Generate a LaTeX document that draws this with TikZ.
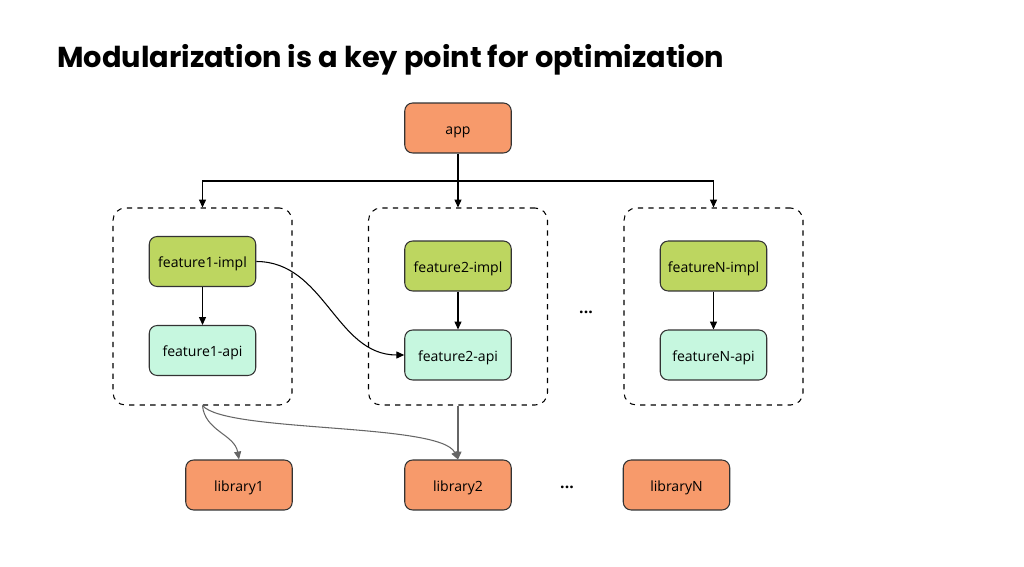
\documentclass[tikz,border=0pt]{standalone}
\usepackage{fontspec}
\setmainfont{Open Sans}
\newfontfamily\titlefont{Poppins}
\usepackage{xcolor}
\usepackage{tikz}
\usetikzlibrary{arrows.meta}
\definecolor{apporange}{HTML}{F79A6B}
\definecolor{implgreen}{HTML}{BDD660}
\definecolor{apimint}{HTML}{C6F7DF}
\definecolor{libgray}{HTML}{666666}

\begin{document}
\begin{tikzpicture}[
    x=0.02cm, y=0.02cm,
    box/.style={draw=black!80, rounded corners=4.5pt, minimum width=2.13cm, minimum height=1.0cm,
                font=\fontsize{8}{10}\selectfont, inner sep=0pt, line width=0.6pt,
                text height=1.6ex, text depth=0.3ex},
    appbox/.style={box, fill=apporange},
    implbox/.style={box, fill=implgreen},
    apibox/.style={box, fill=apimint},
    libbox/.style={box, fill=apporange},
    group/.style={draw, dashed, rounded corners=7pt, minimum width=3.58cm, minimum height=3.94cm,
                  inner sep=0pt, line width=0.6pt},
    arr/.style={-{Triangle[length=4.5pt, width=4pt]}, line width=0.6pt},
    libarr/.style={arr, libgray},
    dots/.style={font=\fontsize{9}{10}\selectfont\bfseries},
  ]
  \useasboundingbox (0,0) rectangle (1024,-567);

  % --- title ---
  \node[anchor=base west, inner sep=0pt, font=\titlefont\fontsize{16.4}{18}\selectfont\bfseries] (title)
    at (57,-68) {Modularization is a key point for optimization};

  % --- app ---
  \node[appbox] (app) at (458,-128) {app};

  % --- feature groups ---
  \node[group] (g1) at (202.5,-306.5) {};
  \node[group] (g2) at (458,-306.5) {};
  \node[group] (g3) at (713.5,-306.5) {};

  \node[implbox] (f1impl) at (202.5,-261.5) {feature1-impl};
  \node[apibox]  (f1api)  at (202.5,-350.5) {feature1-api};
  \node[implbox] (f2impl) at (458,-266) {feature2-impl};
  \node[apibox]  (f2api)  at (458,-355) {feature2-api};
  \node[implbox] (fNimpl) at (713.5,-266) {featureN-impl};
  \node[apibox]  (fNapi)  at (713.5,-355) {featureN-api};
  \node[dots] (gdots) at (586,-312) {...};

  % --- libraries ---
  \node[libbox] (lib1) at (239,-485) {library1};
  \node[libbox] (lib2) at (458,-485) {library2};
  \node[libbox] (libN) at (676.5,-485) {libraryN};
  \node[dots] (ldots) at (567,-487) {...};

  % --- app to groups ---
  \coordinate (bus) at (458,-181);
  \draw[arr] (app.south) -- (g2.north);
  \draw[arr] (bus) -| (g1.north);
  \draw[arr] (bus) -| (g3.north);

  % --- inside groups ---
  \draw[arr] (f1impl) -- (f1api);
  \draw[arr] (f2impl) -- (f2api);
  \draw[arr] (fNimpl) -- (fNapi);
  \draw[arr] (f1impl.east) to[out=0, in=180] (f2api.west);

  % --- groups to libraries ---
  \draw[libarr] (g1.south) to[out=-85, in=100] (lib1.north);
  \draw[libarr] (g1.south) to[out=-50, in=115, out looseness=0.35, in looseness=0.4] (lib2.north);
  \draw[libarr] (g2.south) -- (lib2.north);
\end{tikzpicture}
\end{document}
